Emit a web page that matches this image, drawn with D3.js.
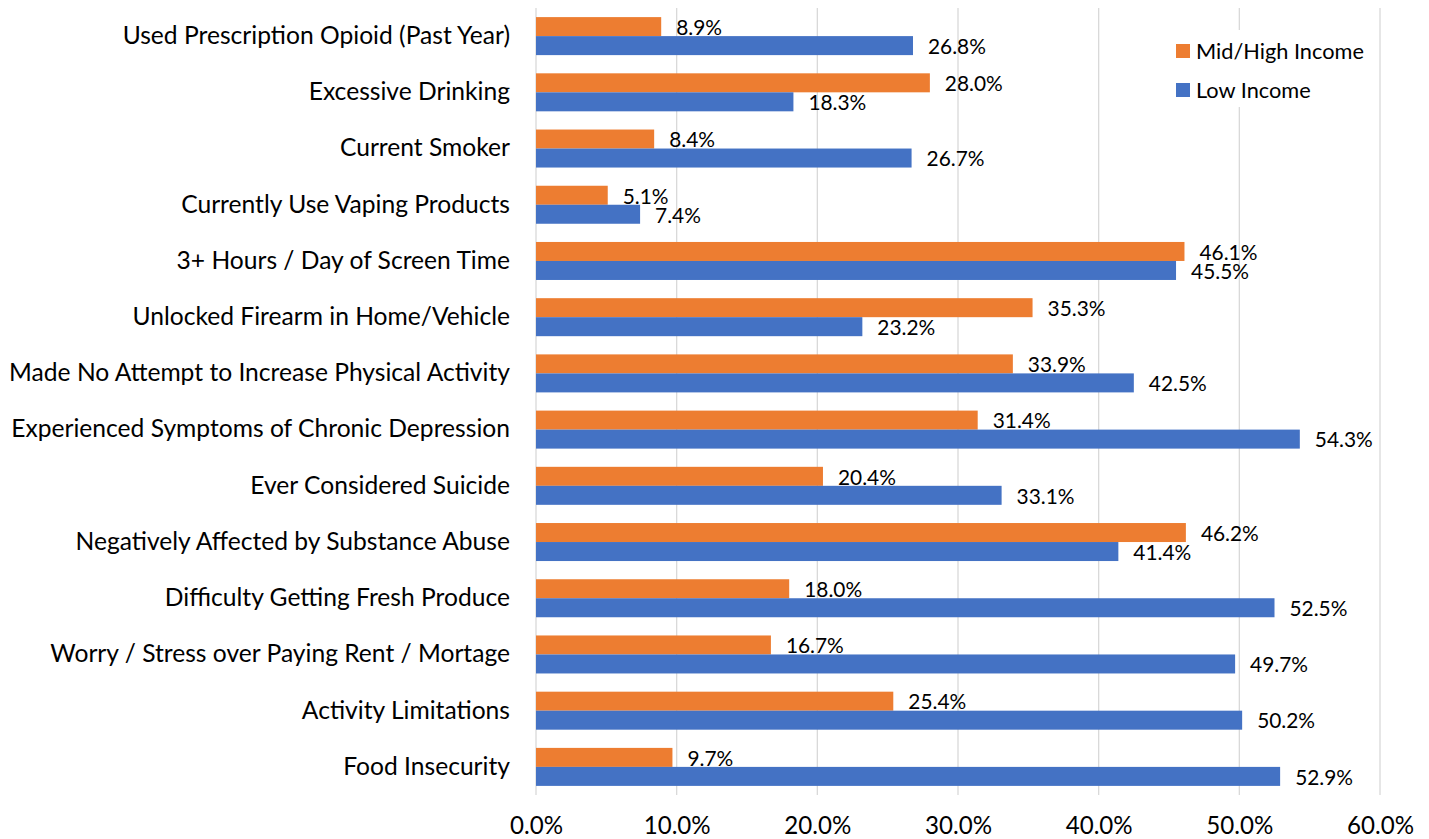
<!DOCTYPE html>
<html><head><meta charset="utf-8">
<script src="https://cdn.jsdelivr.net/npm/d3@7"></script>
<style>body{margin:0;background:#fff;} svg{display:block;} text{font-family:Lato, "Open Sans", sans-serif;fill:#000;}</style>
</head><body>
<svg id="c" width="1429" height="839"></svg>
<script>
const categories = [
  "Used Prescription Opioid (Past Year)",
  "Excessive Drinking",
  "Current Smoker",
  "Currently Use Vaping Products",
  "3+ Hours / Day of Screen Time",
  "Unlocked Firearm in Home/Vehicle",
  "Made No Attempt to Increase Physical Activity",
  "Experienced Symptoms of Chronic Depression",
  "Ever Considered Suicide",
  "Negatively Affected by Substance Abuse",
  "Difficulty Getting Fresh Produce",
  "Worry / Stress over Paying Rent / Mortage",
  "Activity Limitations",
  "Food Insecurity"
];
const midHighIncome = [8.9, 28.0, 8.4, 5.1, 46.1, 35.3, 33.9, 31.4, 20.4, 46.2, 18.0, 16.7, 25.4, 9.7];
const lowIncome = [26.8, 18.3, 26.7, 7.4, 45.5, 23.2, 42.5, 54.3, 33.1, 41.4, 52.5, 49.7, 50.2, 52.9];
const seriesNames = ["Mid/High Income", "Low Income"];
const seriesColors = ["#ED7D31", "#4472C4"];
const xTicks = [0, 10, 20, 30, 40, 50, 60];

const svg = d3.select("#c");
const mLeft = 536, mRight = 1380, mTop = 8, mBottom = 795;

function fitSize(str, target, base) {
  const t = svg.append("text").style("font-size", base + "px").text(str);
  const w = t.node().getComputedTextLength();
  t.remove();
  return base * target / w;
}
const catSize = fitSize("Made No Attempt to Increase Physical Activity", 501, 20);
const valSize = fitSize("26.8%", 58, 20);
const tickSize = fitSize("10.0%", 67, 20);
const legSize = fitSize("Mid/High Income", 168, 20);

const x = d3.scaleLinear().domain([0, 60]).range([mLeft, mRight]);
const y = d3.scaleBand().domain(categories).range([mTop, mBottom]).paddingInner(0.324).paddingOuter(0.162);
const ys = d3.scaleBand().domain(seriesNames).range([0, y.bandwidth()]);

svg.append("g").selectAll("line").data(xTicks).join("line")
  .attr("x1", d => x(d)).attr("x2", d => x(d))
  .attr("y1", mTop).attr("y2", mBottom)
  .attr("stroke", "#D9D9D9").attr("stroke-width", 1.3);

const xAxis = d3.axisBottom(x).tickValues(xTicks).tickSize(0).tickPadding(0)
  .tickFormat(d => d.toFixed(1) + "%");
const gx = svg.append("g").attr("transform", `translate(0,${mBottom})`).call(xAxis);
gx.select(".domain").remove();
gx.selectAll("text").attr("y", 31).attr("dy", "0.35em")
  .style("font-size", tickSize + "px").style("font-family", "Lato, sans-serif").attr("fill", "#000");

const yAxis = d3.axisLeft(y).tickSize(0).tickPadding(26);
const gy = svg.append("g").attr("transform", `translate(${mLeft},0)`).call(yAxis);
gy.select(".domain").remove();
gy.selectAll("text").style("font-size", catSize + "px").style("font-family", "Lato, sans-serif").attr("fill", "#000");

const data = categories.map((c, i) => ({cat: c, vals: [midHighIncome[i], lowIncome[i]]}));

const grp = svg.append("g").selectAll("g").data(data).join("g")
  .attr("transform", d => `translate(0,${y(d.cat)})`);

grp.selectAll("rect").data(d => d.vals.map((v, j) => ({v, s: seriesNames[j], c: seriesColors[j]})))
  .join("rect")
  .attr("x", x(0)).attr("y", d => ys(d.s))
  .attr("width", d => x(d.v) - x(0)).attr("height", ys.bandwidth())
  .attr("fill", d => d.c);

grp.selectAll("text.val").data(d => d.vals.map((v, j) => ({v, s: seriesNames[j]})))
  .join("text").attr("class", "val")
  .attr("x", d => x(d.v) + 15)
  .attr("y", d => ys(d.s) + ys.bandwidth() / 2 + 1)
  .attr("dy", "0.35em")
  .style("font-size", valSize + "px")
  .text(d => d.v.toFixed(1) + "%");

const lg = svg.append("g");
lg.append("rect").attr("x", 1162).attr("y", 30).attr("width", 216).attr("height", 77).attr("fill", "#fff");
seriesNames.forEach((n, i) => {
  const yy = 51 + i * 39;
  lg.append("rect").attr("x", 1176).attr("y", yy - 7).attr("width", 14).attr("height", 14).attr("fill", seriesColors[i]);
  lg.append("text").attr("x", 1196).attr("y", yy).attr("dy", "0.35em").style("font-size", legSize + "px").text(n);
});
</script>
</body></html>
